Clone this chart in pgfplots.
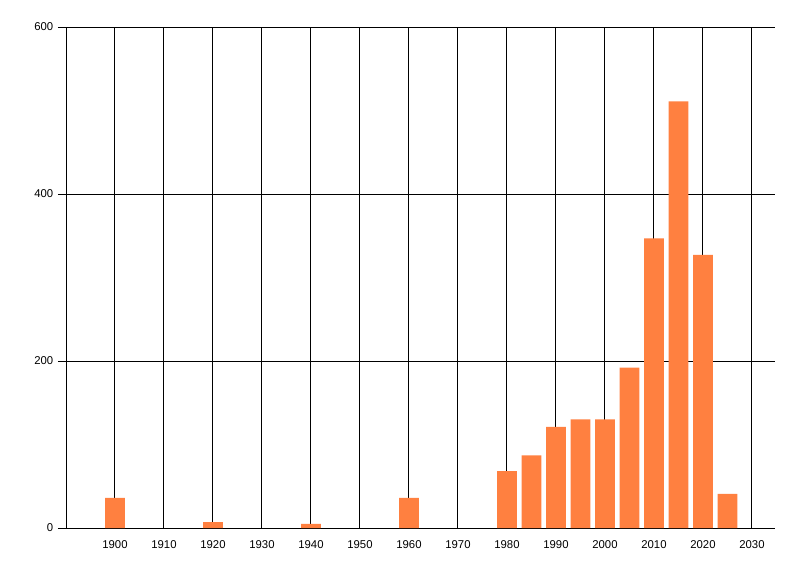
\documentclass[border=0pt]{standalone}
\usepackage{fontspec}
\setmainfont{Liberation Sans}
\usepackage{pgfplots}
\pgfplotsset{compat=1.18}
\definecolor{barorange}{RGB}{255,128,64}
\begin{document}
\begin{tikzpicture}
\path[use as bounding box] (0pt,0pt) rectangle (600pt,432pt);
\begin{axis}[
  at={(49.5pt,36pt)}, anchor=south west,
  scale only axis,
  width=531.75pt, height=375.75pt,
  xmin=1890, xmax=2034.7,
  ymin=0, ymax=600,
  xtick={1900,1910,...,2030},
  ytick={0,200,400,600},
  xticklabel style={/pgf/number format/1000 sep={}},
  /pgf/number format/assume math mode=true,
  ticklabel style={font=\fontsize{8.5}{10}\selectfont, text=black},
  axis x line*=bottom, axis y line*=left,
  axis line style={-, black, line width=0.75pt},
  grid=major,
  major grid style={black, line width=0.75pt},
  xtick style={draw=none},
  ytick style={black, line width=0.75pt},
  tick align=outside,
  major tick length=6pt,
  ybar, bar width=4,
  clip=false,
]
\addplot[fill=barorange, draw=none] coordinates {
 (1900,36) (1920,7) (1940,5) (1960,36) (1980,68) (1985,87) (1990,121)
 (1995,130) (2000,130) (2005,192) (2010,347) (2015,511) (2020,327) (2025,41)
};
\end{axis}
\end{tikzpicture}
\end{document}
